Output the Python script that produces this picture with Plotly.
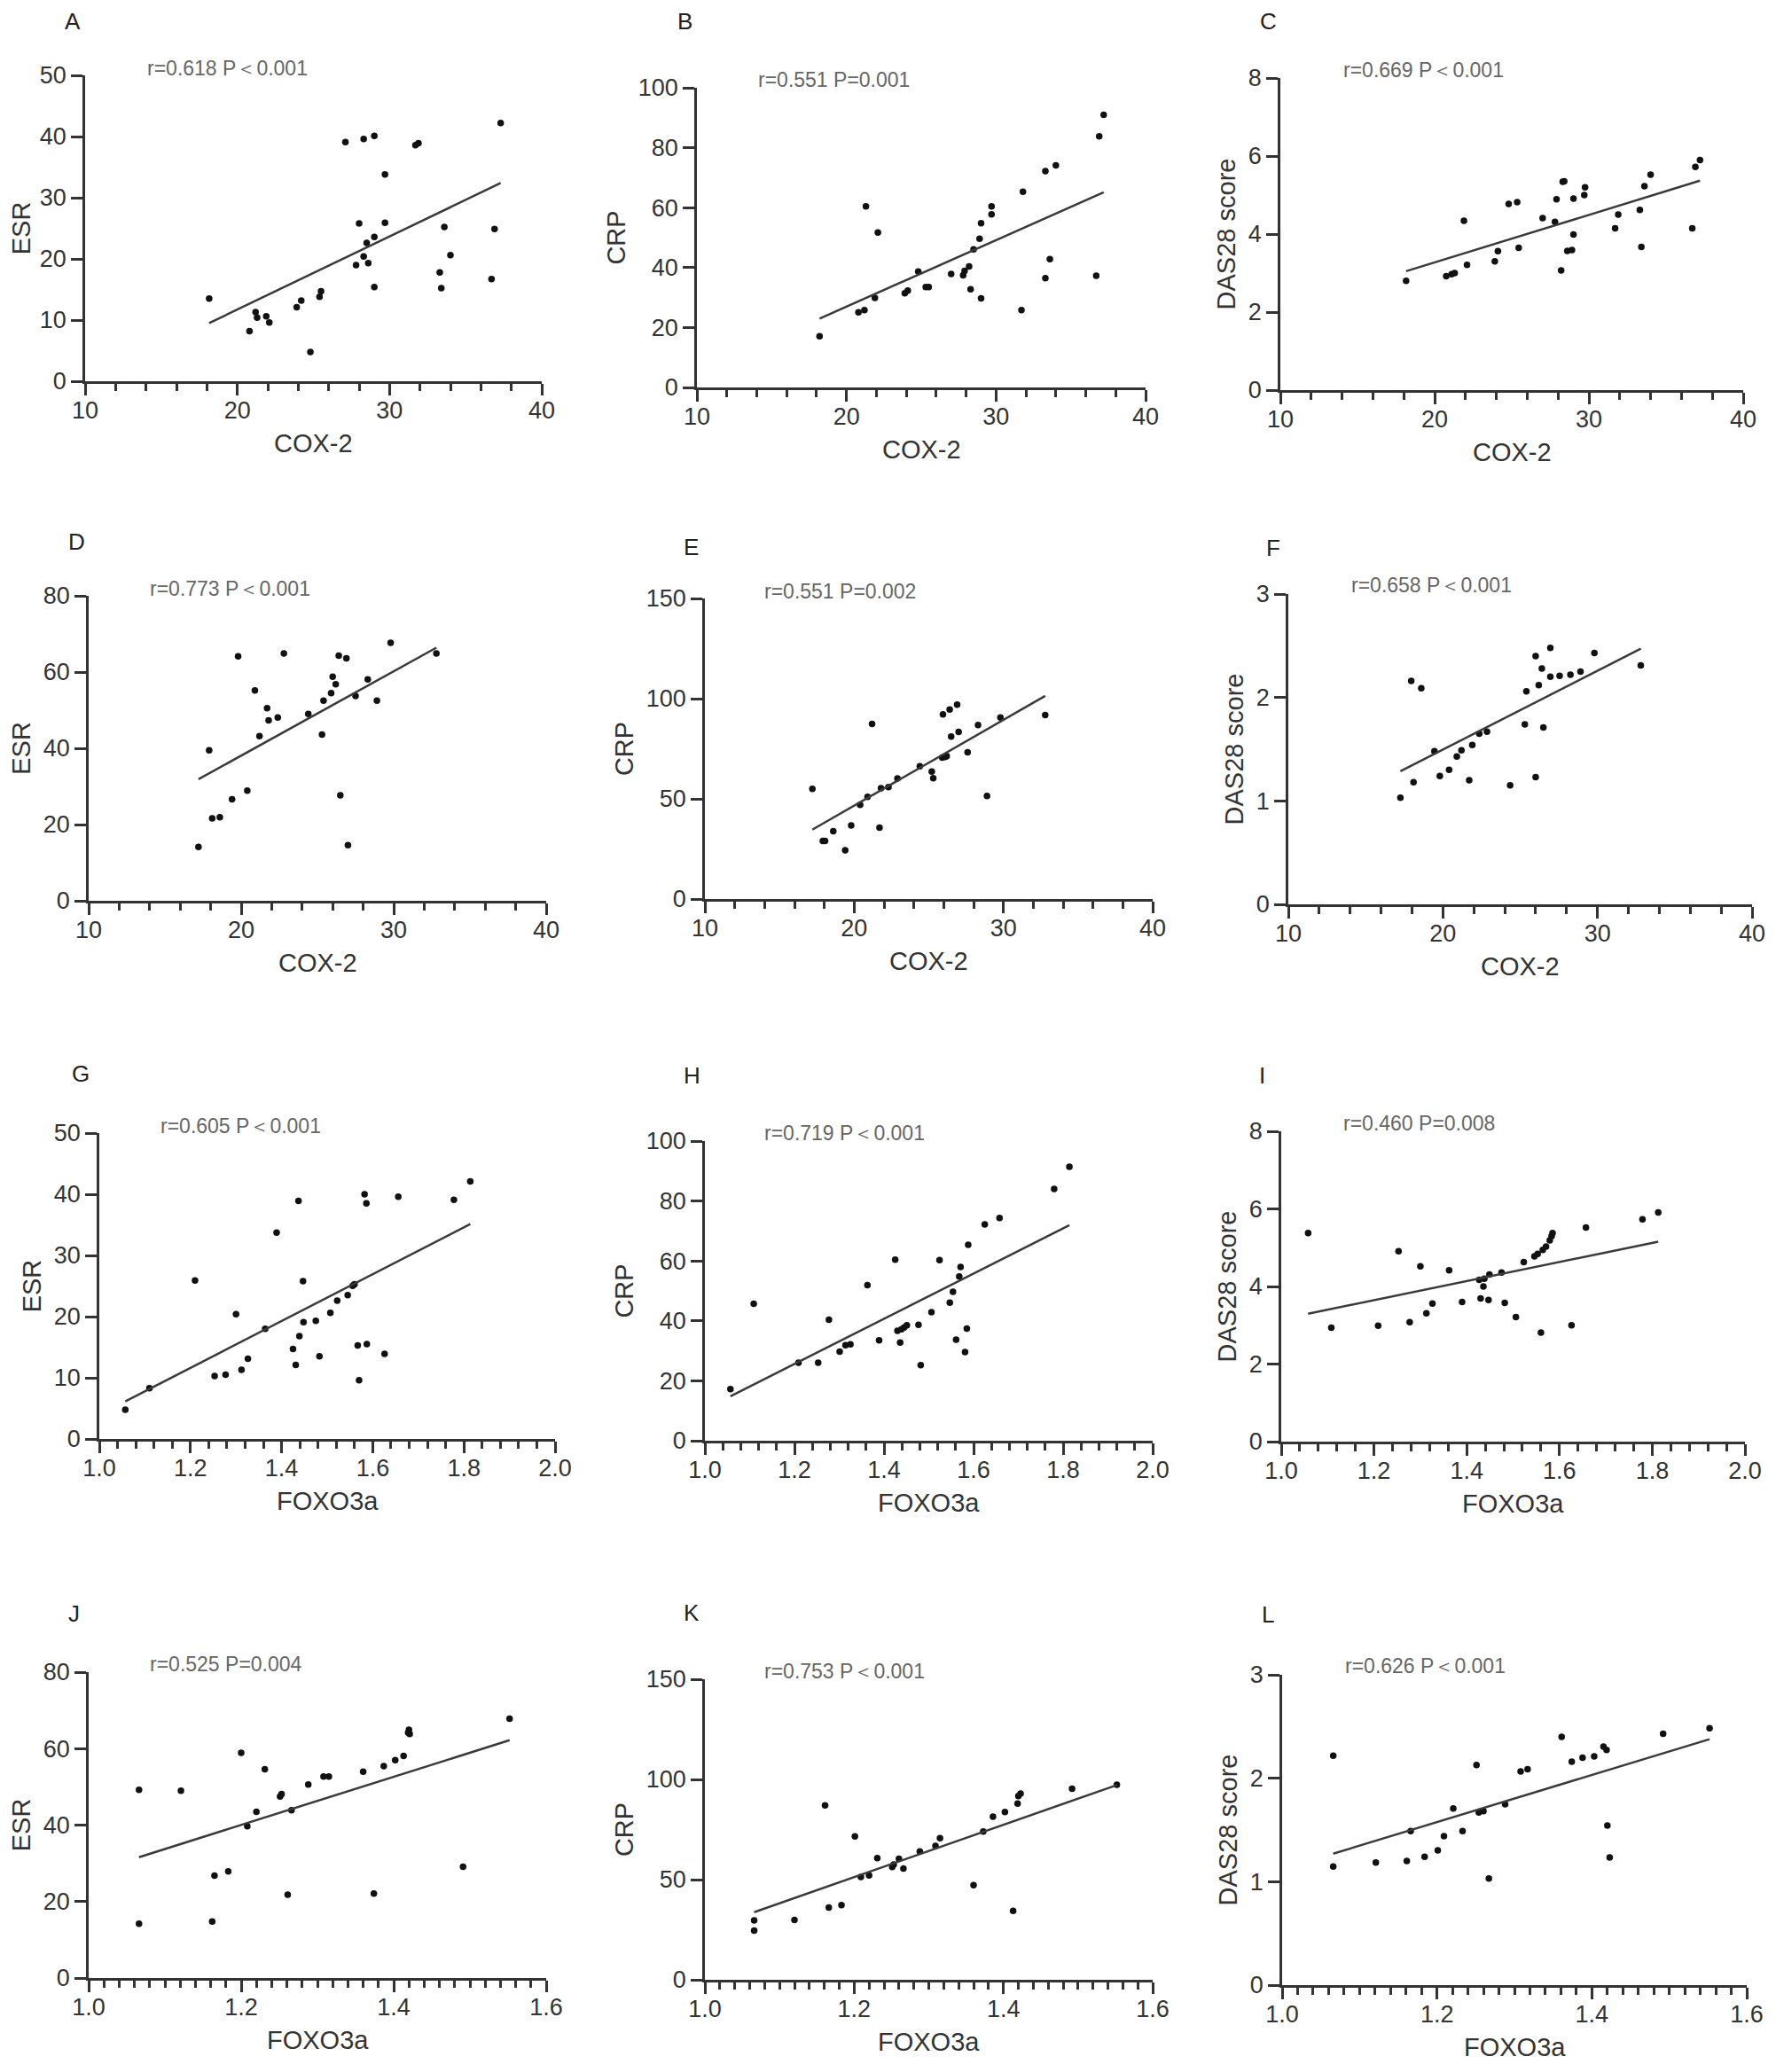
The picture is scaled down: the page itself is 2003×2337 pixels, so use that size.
import numpy as np
import plotly.graph_objects as go

# COX-2 panels (A-F)
cox2_a = [18.15, 20.8, 21.2, 21.3, 21.9, 22.1, 23.9, 24.2, 24.8, 25.4, 25.5, 27.1, 27.8, 28.0, 28.3, 28.3,
          28.5, 28.6, 29.0, 29.0, 29.0, 29.7, 29.7, 31.7, 31.9, 33.3, 33.4, 33.6, 34.0, 36.7, 36.9, 37.3]
esr_a = [13.5, 8.2, 11.3, 10.4, 10.6, 9.6, 12.1, 13.2, 4.8, 13.8, 14.7, 39.1, 19.0, 25.8, 20.4, 39.6,
         22.6, 19.3, 40.1, 23.6, 15.4, 33.8, 25.9, 38.6, 38.9, 17.8, 15.2, 25.2, 20.6, 16.7, 24.9, 42.2]

cox2_b = [18.2, 20.8, 21.2, 21.3, 21.9, 22.1, 23.9, 24.1, 24.8, 25.3, 25.5, 27.0, 27.8, 27.9, 28.2, 28.3,
          28.5, 28.9, 29.0, 29.0, 29.7, 29.7, 31.7, 31.8, 33.3, 33.3, 33.6, 34.0, 36.7, 36.9, 37.2]
crp_b = [17.1, 25.1, 25.8, 60.4, 29.9, 51.7, 31.4, 32.3, 38.7, 33.5, 33.5, 37.9, 37.4, 38.9, 40.4, 32.8,
         46.1, 49.6, 29.7, 54.8, 57.8, 60.4, 25.8, 65.3, 72.2, 36.5, 42.8, 74.1, 37.3, 83.8, 91.0]

cox2_c = [18.15, 20.75, 21.1, 21.3, 21.9, 22.1, 23.9, 24.1, 24.8, 25.35, 25.45, 27.0, 27.8, 27.9, 28.2, 28.3,
          28.4, 28.6, 28.9, 29.0, 29.0, 29.7, 29.75, 31.7, 31.9, 33.3, 33.4, 33.6, 34.0, 36.7, 36.9, 37.2]
das_c = [2.80, 2.92, 2.97, 3.00, 4.34, 3.21, 3.30, 3.56, 4.77, 4.82, 3.65, 4.41, 4.31, 4.89, 3.07, 5.34,
         5.35, 3.57, 3.59, 3.99, 4.91, 5.00, 5.20, 4.15, 4.50, 4.62, 3.67, 5.23, 5.52, 4.15, 5.72, 5.90]

cox2_d = [17.2, 17.9, 18.1, 18.6, 19.4, 19.8, 20.4, 20.9, 21.2, 21.7, 21.8, 22.4, 22.8, 24.4, 25.3, 25.4,
          25.9, 26.0, 26.2, 26.4, 26.5, 26.9, 27.0, 27.5, 28.3, 28.9, 29.8, 32.8]
esr_d = [14.1, 39.5, 21.6, 21.9, 26.6, 64.1, 28.9, 55.2, 43.2, 50.5, 47.3, 48.1, 64.9, 49.0, 43.6, 52.5,
         54.5, 58.8, 56.8, 64.3, 27.7, 63.6, 14.6, 53.7, 58.1, 52.5, 67.7, 64.9]

cox2_e = [17.2, 17.9, 18.05, 18.6, 19.4, 19.8, 20.4, 20.9, 21.2, 21.7, 21.8, 22.3, 22.9, 24.4, 25.2, 25.3,
          25.9, 25.95, 26.1, 26.2, 26.4, 26.5, 26.9, 27.0, 27.6, 28.3, 28.9, 29.8, 32.8]
crp_e = [55.0, 29.0, 29.0, 33.9, 24.3, 36.7, 47.0, 51.0, 87.4, 35.6, 55.3, 55.9, 60.2, 66.3, 63.6, 60.3,
         70.6, 92.1, 70.9, 71.4, 94.6, 81.1, 97.0, 83.4, 73.2, 86.8, 51.4, 90.6, 91.8]

cox2_f = [17.25, 17.95, 18.1, 18.6, 19.45, 19.8, 20.4, 20.9, 21.2, 21.7, 21.9, 22.35, 22.85, 24.35, 25.3,
          25.4, 26.0, 26.0, 26.2, 26.4, 26.5, 26.95, 26.95, 27.55, 28.25, 28.9, 29.8, 32.8]
das_f = [1.03, 2.16, 1.18, 2.09, 1.48, 1.24, 1.30, 1.43, 1.49, 1.20, 1.54, 1.65, 1.67, 1.15, 1.74,
         2.06, 1.23, 2.40, 2.12, 2.28, 1.71, 2.48, 2.20, 2.21, 2.22, 2.25, 2.43, 2.31]

# FOXO3a panels (G-L)
foxo_g = [1.057, 1.11, 1.21, 1.253, 1.277, 1.30, 1.312, 1.326, 1.364, 1.389, 1.425, 1.431, 1.437, 1.439,
          1.448, 1.447, 1.475, 1.483, 1.507, 1.522, 1.545, 1.556, 1.56, 1.567, 1.57, 1.582, 1.586, 1.587,
          1.626, 1.656, 1.778, 1.814]
esr_g = [4.8, 8.3, 25.9, 10.3, 10.5, 20.4, 11.3, 13.1, 18.0, 33.75, 14.7, 12.1, 38.9, 16.8,
         19.1, 25.8, 19.3, 13.5, 20.6, 22.6, 23.5, 25.05, 25.3, 15.3, 9.6, 40.0, 38.5, 15.5,
         13.9, 39.6, 39.1, 42.1]

foxo_h = [1.057, 1.109, 1.209, 1.253, 1.277, 1.301, 1.314, 1.325, 1.363, 1.389, 1.425, 1.43, 1.436, 1.439,
          1.445, 1.451, 1.477, 1.482, 1.506, 1.524, 1.547, 1.554, 1.561, 1.568, 1.571, 1.581, 1.585, 1.588,
          1.625, 1.658, 1.78, 1.814]
crp_h = [17.2, 45.7, 26.0, 26.0, 40.4, 29.7, 31.9, 32.2, 51.9, 33.5, 60.4, 36.7, 32.8, 37.2,
         37.8, 38.5, 38.7, 25.2, 42.9, 60.3, 46.1, 49.7, 33.7, 54.8, 58.0, 29.6, 37.4, 65.4,
         72.2, 74.3, 84.0, 91.4]

foxo_i = [1.058, 1.108, 1.209, 1.253, 1.277, 1.30, 1.313, 1.326, 1.362, 1.39, 1.427, 1.43, 1.436, 1.438,
          1.447, 1.449, 1.475, 1.482, 1.506, 1.523, 1.546, 1.553, 1.56, 1.564, 1.571, 1.579, 1.583, 1.585,
          1.626, 1.657, 1.779, 1.813]
das_i = [5.38, 2.94, 2.99, 4.91, 3.08, 4.52, 3.31, 3.56, 4.42, 3.60, 4.17, 3.69, 4.00, 4.20,
         3.65, 4.31, 4.36, 3.58, 3.21, 4.63, 4.78, 4.84, 2.81, 4.94, 5.03, 5.19, 5.30, 5.38,
         3.00, 5.52, 5.73, 5.91]

foxo_j = [1.066, 1.066, 1.121, 1.162, 1.165, 1.183, 1.20, 1.208, 1.22, 1.231, 1.251, 1.253, 1.261, 1.266,
          1.288, 1.308, 1.315, 1.36, 1.374, 1.387, 1.402, 1.413, 1.419, 1.42, 1.421, 1.491, 1.552]
esr_j = [14.2, 49.2, 49.0, 14.8, 26.8, 27.9, 58.9, 39.7, 43.5, 54.6, 47.5, 48.1, 21.8, 43.9,
         50.6, 52.7, 52.7, 54.0, 22.1, 55.4, 57.0, 58.1, 64.2, 64.9, 63.8, 29.1, 67.8]

foxo_k = [1.066, 1.066, 1.12, 1.161, 1.166, 1.183, 1.201, 1.209, 1.22, 1.231, 1.251, 1.253, 1.26, 1.266,
          1.288, 1.309, 1.315, 1.36, 1.373, 1.386, 1.402, 1.413, 1.419, 1.42, 1.423, 1.492, 1.552]
crp_k = [24.6, 29.6, 29.9, 87.1, 36.1, 37.3, 71.6, 51.3, 52.1, 60.7, 56.3, 57.5, 60.4, 55.5,
         64.1, 66.8, 70.7, 47.2, 74.0, 81.4, 83.7, 34.4, 87.9, 91.7, 92.9, 95.3, 97.4]

foxo_l = [1.066, 1.066, 1.121, 1.161, 1.166, 1.184, 1.201, 1.209, 1.221, 1.233, 1.251, 1.254, 1.26, 1.267,
          1.288, 1.308, 1.317, 1.361, 1.374, 1.388, 1.403, 1.415, 1.419, 1.42, 1.423, 1.492, 1.552]
das_l = [1.146, 2.218, 1.184, 1.199, 1.489, 1.24, 1.302, 1.439, 1.707, 1.489, 2.128, 1.67, 1.682, 1.031,
         1.748, 2.065, 2.087, 2.40, 2.159, 2.199, 2.212, 2.305, 2.274, 1.542, 1.234, 2.43, 2.483]

letters = ["A", "B", "C", "D", "E", "F", "G", "H", "I", "J", "K", "L"]
stats = ["r=0.618 P＜0.001", "r=0.551 P=0.001", "r=0.669 P＜0.001",
         "r=0.773 P＜0.001", "r=0.551 P=0.002", "r=0.658 P＜0.001",
         "r=0.605 P＜0.001", "r=0.719 P＜0.001", "r=0.460 P=0.008",
         "r=0.525 P=0.004", "r=0.753 P＜0.001", "r=0.626 P＜0.001"]
x_names = ["COX-2"] * 6 + ["FOXO3a"] * 6
y_names = ["ESR", "CRP", "DAS28 score"] * 4
xs = [cox2_a, cox2_b, cox2_c, cox2_d, cox2_e, cox2_f, foxo_g, foxo_h, foxo_i, foxo_j, foxo_k, foxo_l]
ys = [esr_a, crp_b, das_c, esr_d, crp_e, das_f, esr_g, crp_h, das_i, esr_j, crp_k, das_l]
y_max = [50, 100, 8, 80, 150, 3, 50, 100, 8, 80, 150, 3]
y_step = [10, 20, 2, 20, 50, 1, 10, 20, 2, 20, 50, 1]

# plot boxes in page pixels: left, right, top, bottom
W, H = 2003, 2337
SHIFT = 8  # the page body adds a small margin, pull everything back by it
boxes = [(96, 611, 85, 430), (786, 1292, 99, 437), (1444, 1966, 88, 440),
         (100, 616, 672, 1016), (795, 1300, 675, 1014), (1453, 1976, 670, 1020),
         (112, 626, 1278, 1623), (795, 1300, 1287, 1625), (1445, 1968, 1276, 1626),
         (100, 616, 1886, 2231), (795, 1300, 1894, 2233), (1446, 1970, 1889, 2239)]
letter_pos = [(82, 24), (772, 24), (1430, 24), (86, 611), (779, 617), (1436, 618),
              (91, 1211), (780, 1213), (1423, 1213), (83, 1820), (780, 1819), (1430, 1821)]
stat_pos = [(164, 77), (853, 90), (1513, 79), (167, 664), (860, 667), (1522, 660),
            (179, 1270), (860, 1278), (1513, 1267), (167, 1877), (860, 1885), (1515, 1879)]

FONT = "Arial, Liberation Sans, sans-serif"
INK = "#333333"


def px(xp, yp):
    return (xp - SHIFT) / W, 1 - (yp - SHIFT) / H


fig = go.Figure()
annotations = []
for i in range(12):
    n = i + 1
    xa = "x" if n == 1 else f"x{n}"
    ya = "y" if n == 1 else f"y{n}"
    x = np.array(xs[i])
    y = np.array(ys[i])
    fig.add_trace(go.Scatter(x=x, y=y, mode="markers", xaxis=xa, yaxis=ya,
                             marker=dict(color="#111111", size=7.5), showlegend=False))
    slope, icpt = np.polyfit(x, y, 1)
    lx = np.array([x.min(), x.max()])
    fig.add_trace(go.Scatter(x=lx, y=slope * lx + icpt, mode="lines", xaxis=xa, yaxis=ya,
                             line=dict(color="#3a3a3a", width=2.5), showlegend=False))

    l, r, t, b = boxes[i]
    x0, y0 = px(l, b)
    x1, y1 = px(r, t)
    if i < 6:
        xr, xd, xminor, xfmt = [10, 40], 10, 2, ""
    elif i < 9:
        xr, xd, xminor, xfmt = [1.0, 2.0], 0.2, 0.04, ".1f"
    else:
        xr, xd, xminor, xfmt = [1.0, 1.6], 0.2, 0.02, ".1f"

    axis_common = dict(showline=True, linecolor=INK, linewidth=2.5, ticks="outside",
                       tickcolor=INK, tickwidth=2.5, ticklen=13, showgrid=False, zeroline=False,
                       tickfont=dict(family=FONT, size=27, color=INK), automargin=False)
    fig.layout[f"xaxis{'' if n == 1 else n}"] = dict(
        axis_common, domain=[x0, x1], anchor=ya, range=xr, tick0=xr[0], dtick=xd,
        tickformat=xfmt, ticklabelstandoff=-6,
        minor=dict(ticks="outside", dtick=xminor, tick0=xr[0], ticklen=8, tickwidth=2.5, tickcolor=INK))
    fig.layout[f"yaxis{'' if n == 1 else n}"] = dict(
        axis_common, domain=[y0, y1], anchor=xa, range=[0, y_max[i]],
        tick0=0, dtick=y_step[i],
        title=dict(text=y_names[i], font=dict(family=FONT, size=29, color=INK), standoff=6))

    tx, ty = px((l + r) / 2, b + 70)
    annotations.append(dict(text=x_names[i], x=tx, y=ty, xref="paper", yref="paper",
                            showarrow=False, xanchor="center", yanchor="middle",
                            font=dict(family=FONT, size=29, color=INK)))
    lx0, ly0 = px(*letter_pos[i])
    annotations.append(dict(text=letters[i], x=lx0, y=ly0, xref="paper", yref="paper",
                            showarrow=False, xanchor="center", yanchor="middle",
                            font=dict(family=FONT, size=26, color="#222222")))
    sx, sy = px(*stat_pos[i])
    annotations.append(dict(text=stats[i], x=sx, y=sy, xref="paper", yref="paper",
                            showarrow=False, xanchor="left", yanchor="middle",
                            font=dict(family=FONT, size=23, color="#666666")))

fig.update_layout(width=W, height=H, margin=dict(l=0, r=0, t=0, b=0),
                  paper_bgcolor="white", plot_bgcolor="white", annotations=annotations)

fig.write_html("out.html")
